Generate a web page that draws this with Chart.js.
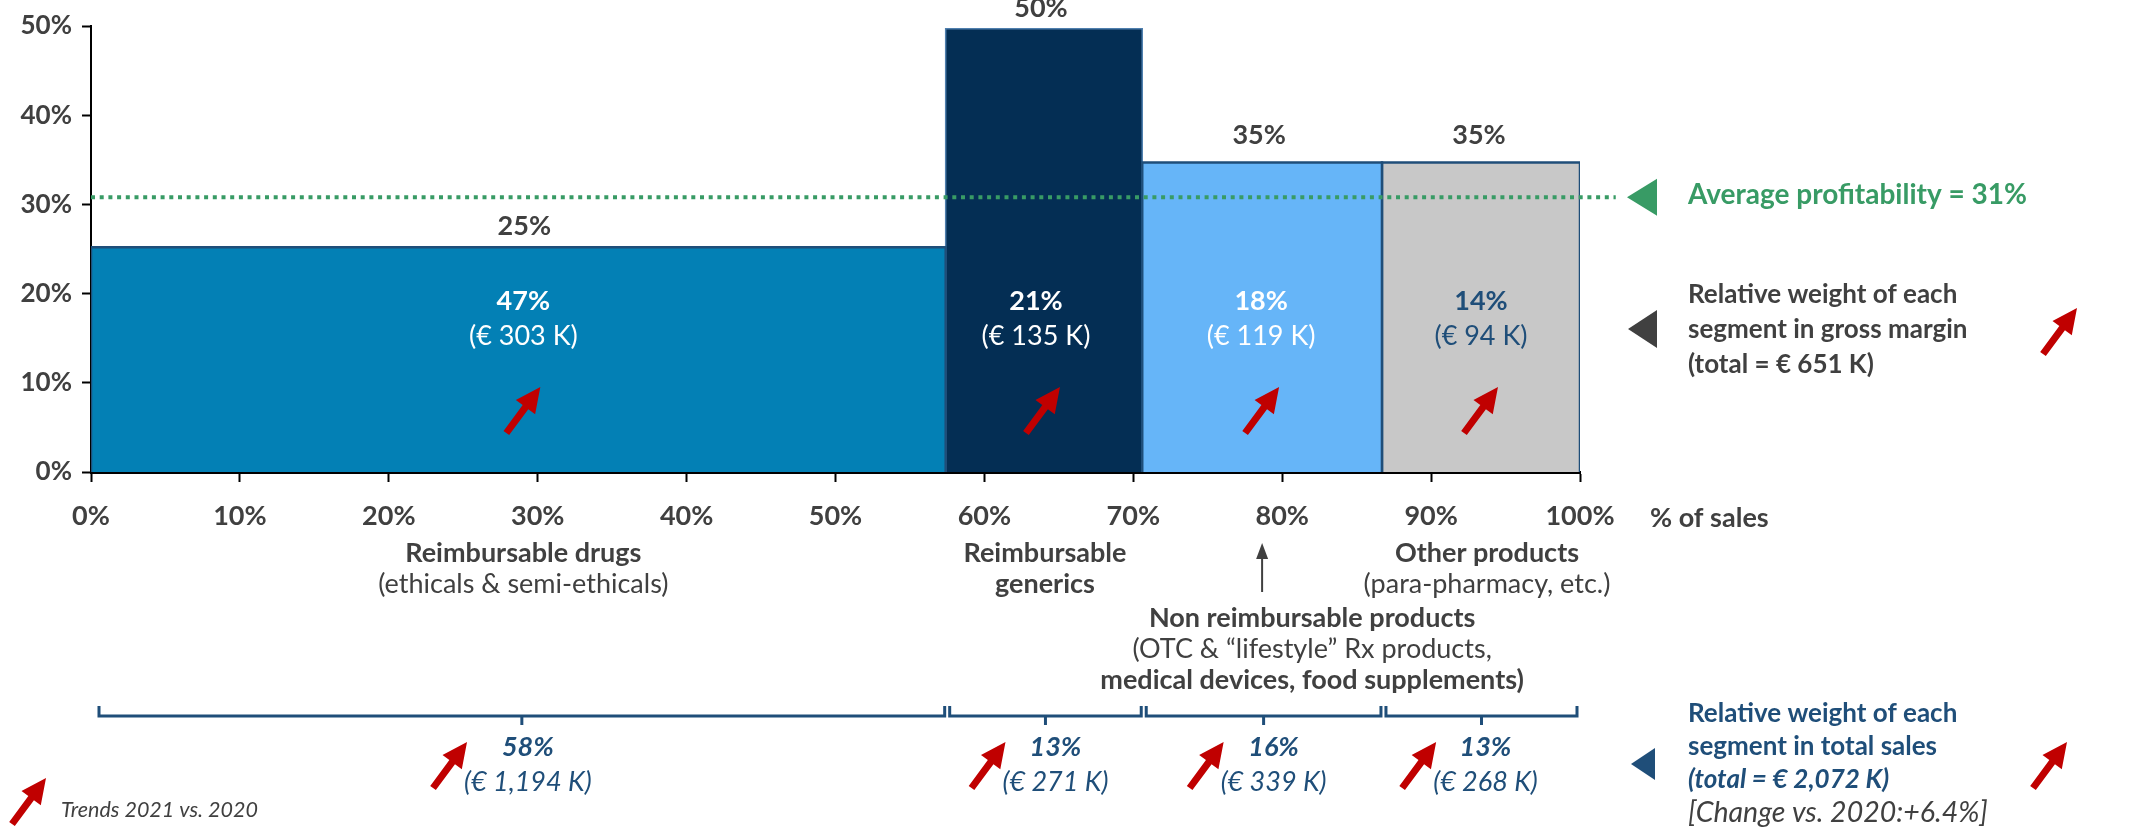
<!DOCTYPE html>
<html>
<head>
<meta charset="utf-8">
<script src="https://cdn.jsdelivr.net/npm/chart.js@4.4.1/dist/chart.umd.min.js"></script>
<style>
html,body{margin:0;padding:0;background:#fff;}
#wrap{width:2140px;height:828px;position:relative;}
</style>
</head>
<body>
<div id="wrap"><canvas id="c" width="2140" height="828"></canvas></div>
<script>
// ---------------- data ----------------
const segments = ['Reimbursable drugs', 'Reimbursable generics', 'Non reimbursable products', 'Other products'];
const salesShare = [57.4, 13.2, 16.1, 13.3];            // bar widths (% of sales)
const profitability = [25.2, 49.7, 34.7, 34.7];         // bar heights (gross margin rate)
const profitabilityLabels = ['25%', '50%', '35%', '35%'];
const marginShareLabels = ['47%', '21%', '18%', '14%'];
const marginValueLabels = ['(€ 303 K)', '(€ 135 K)', '(€ 119 K)', '(€ 94 K)'];
const salesShareLabels = ['58%', '13%', '16%', '13%'];
const salesValueLabels = ['(€ 1,194 K)', '(€ 271 K)', '(€ 339 K)', '(€ 268 K)'];
const averageProfitability = 30.8;
const averageLabel = 'Average profitability = 31%';
const xTickLabels = ['0%', '10%', '20%', '30%', '40%', '50%', '60%', '70%', '80%', '90%', '100%'];
const yTickLabels = ['0%', '10%', '20%', '30%', '40%', '50%'];
const xAxisTitle = '% of sales';
const segmentLabelLines = [
  [['Reimbursable drugs', 'b'], ['(ethicals & semi-ethicals)', 'r']],
  [['Reimbursable', 'b'], ['generics', 'b']],
  [['Non reimbursable products', 'b'], ['(OTC & \u201Clifestyle\u201D Rx products,', 'r'], ['medical devices, food supplements)', 'b']],
  [['Other products', 'b'], ['(para-pharmacy, etc.)', 'r']]
];
const marginNoteLines = ['Relative weight of each', 'segment in gross margin', '(total = € 651 K)'];
const salesNoteLines = ['Relative weight of each', 'segment in total sales', '(total = € 2,072 K)', '[Change vs. 2020:+6.4%]'];
const trendLegend = 'Trends 2021 vs. 2020';

// ---------------- styles ----------------
const barColors = ['#0380B5', '#042E54', '#66B5F8', '#C8C8C8'];
const barBorders = ['#1F4E79', '#4F7FAE', '#1F4E79', '#1F4E79'];
const innerTextColors = ['#FFFFFF', '#FFFFFF', '#FFFFFF', '#1F4E79'];
const GRAY = '#404040', GREEN = '#389B65', BLUE = '#1F4E79', RED = '#C00000';
const FAM = 'Lato, "Open Sans", sans-serif';
const font = (w, s, it) => `${it ? 'italic ' : ''}${w} ${s}px ${FAM}`;

const bounds = [0];
salesShare.forEach((w, i) => bounds.push(bounds[i] + w));

const barDatasets = salesShare.map((w, i) => ({
  label: segments[i],
  data: [{x: bounds[i], y: 0}, {x: bounds[i], y: profitability[i]}, {x: bounds[i + 1], y: profitability[i]}, {x: bounds[i + 1], y: 0}],
  showLine: true, fill: 'origin', tension: 0,
  backgroundColor: barColors[i], borderColor: barBorders[i], borderWidth: i === 1 ? 1.5 : 2.5,
  pointRadius: 0, order: i === 1 ? 3 : 2
}));

const avgDataset = {
  label: 'Average profitability',
  data: [{x: 0, y: averageProfitability}, {x: 102.4, y: averageProfitability}],
  showLine: true, fill: false, borderColor: GREEN, borderWidth: 4, borderDash: [4, 4.7],
  borderCapStyle: 'butt', pointRadius: 0, clip: false, order: 1
};

function drawArrow(ctx, x0, y0, x1, y1, color, shaftW, headL, headW) {
  const dx = x1 - x0, dy = y1 - y0, len = Math.hypot(dx, dy);
  const ux = dx / len, uy = dy / len, nx = -uy, ny = ux;
  const bx = x1 - ux * headL, by = y1 - uy * headL;
  ctx.save(); ctx.fillStyle = color; ctx.beginPath();
  ctx.moveTo(x0 + nx * shaftW / 2, y0 + ny * shaftW / 2);
  ctx.lineTo(bx + nx * shaftW / 2, by + ny * shaftW / 2);
  ctx.lineTo(bx + nx * headW, by + ny * headW);
  ctx.lineTo(x1, y1);
  ctx.lineTo(bx - nx * headW, by - ny * headW);
  ctx.lineTo(bx - nx * shaftW / 2, by - ny * shaftW / 2);
  ctx.lineTo(x0 - nx * shaftW / 2, y0 - ny * shaftW / 2);
  ctx.closePath(); ctx.fill(); ctx.restore();
}
function redArrow(ctx, tipX, tipY) { drawArrow(ctx, tipX - 34, tipY + 46, tipX, tipY, RED, 7, 25, 12); }
function tri(ctx, tipX, tipY, baseX, halfH, color) {
  ctx.save(); ctx.fillStyle = color; ctx.beginPath();
  ctx.moveTo(tipX, tipY); ctx.lineTo(baseX, tipY - halfH); ctx.lineTo(baseX, tipY + halfH);
  ctx.closePath(); ctx.fill(); ctx.restore();
}
function txt(ctx, t, x, y, f, color, align) {
  ctx.font = f; ctx.fillStyle = color; ctx.textAlign = align || 'center'; ctx.textBaseline = 'alphabetic';
  ctx.fillText(t, x, y);
}

const annotations = {
  id: 'annotations',
  afterDraw(chart) {
    const {ctx, scales: {x, y}} = chart;
    ctx.save();
    const centers = salesShare.map((w, i) => (x.getPixelForValue(bounds[i]) + x.getPixelForValue(bounds[i + 1])) / 2);
    const S = 27;
    // labels above bars
    const topNudge = [6, -3, -3, -2];
    const topGap = [12, 12, 18, 18];
    profitabilityLabels.forEach((t, i) => {
      txt(ctx, t, centers[i] + topNudge[i], y.getPixelForValue(profitability[i]) - topGap[i], font('bold', S), GRAY);
    });
    // labels inside bars
    const inNudge = [5, -8, -1, 0];
    const arNudge = [5, -1, 0, 0];
    marginShareLabels.forEach((t, i) => {
      txt(ctx, t, centers[i] + inNudge[i], 310, font('bold', S), innerTextColors[i]);
      txt(ctx, marginValueLabels[i], centers[i] + inNudge[i], 345, font('normal', S), innerTextColors[i]);
      redArrow(ctx, centers[i] + arNudge[i] + 17, 387);
    });
    // x axis title
    txt(ctx, xAxisTitle, 1650, 527, font('bold', S), GRAY, 'left');
    // segment labels under axis
    const segNudge = [5, 1, 50, 6];
    segmentLabelLines.forEach((lines, i) => {
      const base = i === 2 ? 627 : 562;
      lines.forEach((ln, k) => {
        txt(ctx, ln[0], centers[i] + segNudge[i], base + k * 31, font(ln[1] === 'b' ? 'bold' : 'normal', S), GRAY);
      });
    });
    // small up arrow to Non reimbursable
    ctx.strokeStyle = GRAY; ctx.lineWidth = 2;
    ctx.beginPath(); ctx.moveTo(centers[2], 592); ctx.lineTo(centers[2], 555); ctx.stroke();
    ctx.fillStyle = GRAY; ctx.beginPath();
    ctx.moveTo(centers[2], 543); ctx.lineTo(centers[2] - 6, 559); ctx.lineTo(centers[2] + 6, 559); ctx.closePath(); ctx.fill();
    // brackets
    ctx.strokeStyle = BLUE; ctx.lineWidth = 3; ctx.lineCap = 'butt';
    salesShare.forEach((w, i) => {
      const l = x.getPixelForValue(bounds[i]) + (i === 0 ? 8 : 4);
      const r = x.getPixelForValue(bounds[i + 1]) - (i === 3 ? 3 : 1);
      const m = (l + r) / 2;
      ctx.beginPath(); ctx.moveTo(l, 706); ctx.lineTo(l, 716); ctx.lineTo(r, 716); ctx.lineTo(r, 706); ctx.stroke();
      ctx.beginPath(); ctx.moveTo(m, 716); ctx.lineTo(m, 725); ctx.stroke();
      const tc = m + [6, 10, 10, 4][i];
      txt(ctx, salesShareLabels[i], tc, 756, font('bold', S, true), BLUE);
      txt(ctx, salesValueLabels[i], tc, 791, font('normal', S, true), BLUE);
      ctx.font = font('normal', S, true);
      const wv = ctx.measureText(salesValueLabels[i]).width;
      redArrow(ctx, tc - wv / 2 + 3, 742);
    });
    // right side notes
    const avgY = y.getPixelForValue(averageProfitability);
    tri(ctx, 1627, avgY, 1657, 18.5, GREEN);
    txt(ctx, averageLabel, 1688, 204, font('bold', 28), GREEN, 'left');
    tri(ctx, 1628, 329, 1657, 19, GRAY);
    marginNoteLines.forEach((t, k) => txt(ctx, t, 1688, 303 + k * 35, font('bold', 26), GRAY, 'left'));
    redArrow(ctx, 2077, 308);
    tri(ctx, 1631, 764, 1655, 16, BLUE);
    salesNoteLines.forEach((t, k) => {
      if (k < 2) txt(ctx, t, 1688, 722 + k * 33, font('bold', 26), BLUE, 'left');
      else if (k === 2) txt(ctx, t, 1688, 788, font('bold', 26, true), BLUE, 'left');
      else txt(ctx, t, 1688, 822, font('normal', 28.5, true), GRAY, 'left');
    });
    redArrow(ctx, 2067, 742);
    // legend
    redArrow(ctx, 46, 778);
    txt(ctx, trendLegend, 61, 817, font('normal', 21.5, true), GRAY, 'left');
    ctx.restore();
  }
};

function build() {
  new Chart(document.getElementById('c'), {
    type: 'scatter',
    data: {datasets: [avgDataset, ...barDatasets]},
    options: {
      responsive: false, animation: false, events: [],
      layout: {padding: {left: 0, top: 26, right: 560, bottom: 0}},
      plugins: {legend: {display: false}, tooltip: {enabled: false}},
      scales: {
        x: {
          type: 'linear', min: 0, max: 100, z: 1,
          afterFit: s => { s.height = 356; },
          border: {display: true, color: '#000', width: 3},
          grid: {drawOnChartArea: false, drawTicks: true, tickLength: 10, tickWidth: 2, tickColor: '#000'},
          ticks: {stepSize: 10, autoSkip: false, maxRotation: 0, padding: 18, color: GRAY,
                  font: {family: FAM, size: 27, weight: 'bold'},
                  callback: v => xTickLabels[Math.round(v / 10)]}
        },
        y: {
          type: 'linear', min: 0, max: 50, z: 1,
          afterFit: s => { s.width = 91; },
          border: {display: true, color: '#000', width: 2},
          grid: {drawOnChartArea: false, drawTicks: true, tickLength: 9, tickWidth: 2, tickColor: '#000'},
          ticks: {stepSize: 10, padding: 10, color: GRAY,
                  font: {family: FAM, size: 26, weight: 'bold'},
                  callback: v => yTickLabels[Math.round(v / 10)]}
        }
      }
    },
    plugins: [annotations]
  });
}
const loads = ['bold 27px Lato', 'normal 27px Lato', 'italic bold 27px Lato', 'italic 27px Lato', 'italic 21px Lato']
  .map(f => document.fonts.load(f).catch(() => null));
Promise.all(loads).then(build, build);
</script>
</body>
</html>
